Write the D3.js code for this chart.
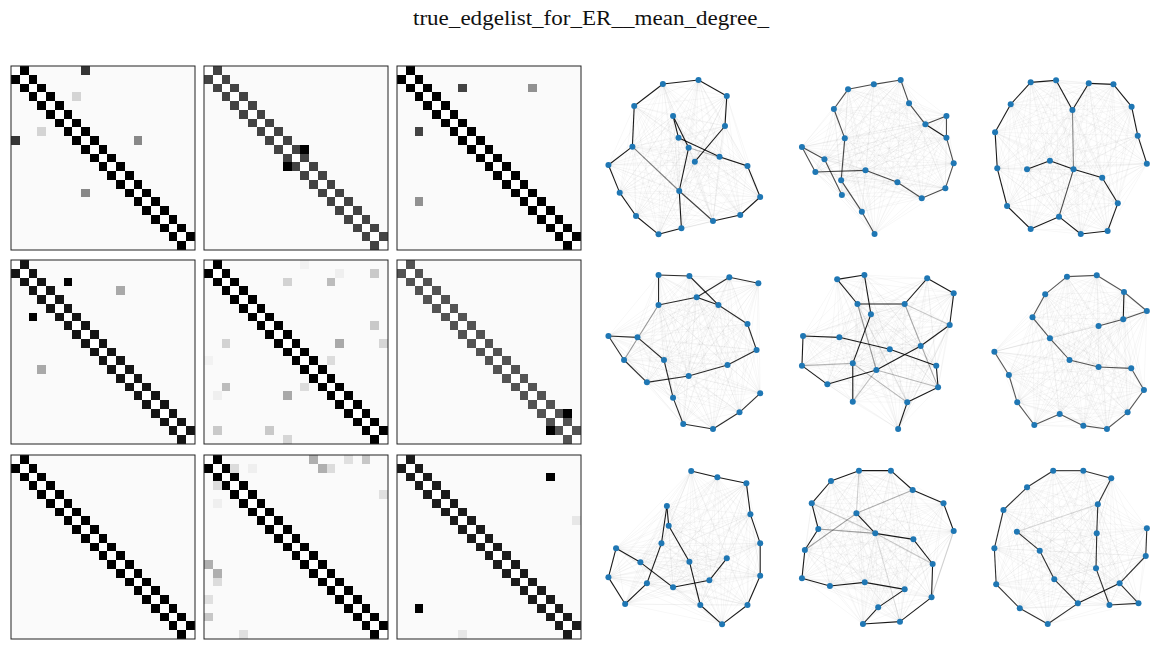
<!DOCTYPE html>
<html><head><meta charset="utf-8">
<script src="https://cdn.jsdelivr.net/npm/d3@7"></script>
<style>body{margin:0;background:#fff;} svg{display:block;}</style>
</head><body>
<svg id="chart" width="1169" height="650"></svg>
<script>
// ---------- data ----------
const title = "true_edgelist_for_ER__mean_degree_";
const nNodes = 21;
const noiseLevel = 0.04;               // faint background weight of every other pair
// weight of the i -> i+1 chain in each of the 9 estimates
const pathWeights = [1.0, 0.79, 1.0, 0.93, 1.0, 0.74, 1.0, 1.0, 0.91];
// additional (symmetric) weighted edges [i, j, w] per estimate
const extraEdges = [
  [[0,8,0.83],[3,7,0.27],[8,14,0.55]],
  [[9,11,1.0]],
  [[2,7,0.79],[2,15,0.52]],
  [[2,6,1.0],[3,12,0.44]],
  [[1,19,0.32],[2,9,0.28],[2,14,0.37],[7,19,0.32],[9,15,0.44],[9,20,0.26],[11,14,0.23],[1,15,0.12],[0,11,0.1]],
  [[17,19,1.0]],
  [],
  [[0,12,0.42],[1,13,0.42],[1,14,0.23],[0,16,0.21],[0,18,0.33],[1,3,0.23],[4,20,0.21],[1,5,0.12]],
  [[2,17,1.0],[7,20,0.17]]
];
// node layout coordinates (layout units) for each of the 9 drawn graphs, node 0..20
const nodeX = [
  [325,400,455,420,343,230,215,258,232,238,175,113,68,37,103,108,187,285,363,358,275],
  [770,735,678,688,658,697,768,842,865,910,968,968,988,965,900,833,745,607,570,632,680],
  [1190,1253,1318,1397,1440,1412,1338,1278,1200,1135,1108,1102,1145,1200,1270,1315,1360,1428,1478,1495,1520],
  [450,370,280,175,175,260,340,420,445,365,258,143,80,37,117,190,215,243,325,398,455],
  [835,860,945,940,812,673,573,570,640,775,897,977,988,915,853,723,667,742,760,710,710],
  [1100,1140,1163,1210,1280,1345,1410,1467,1512,1477,1387,1307,1253,1205,1240,1300,1382,1457,1520,1455,1387],
  [265,337,417,428,455,455,420,350,290,260,203,198,183,143,83,37,58,125,215,315,363],
  [720,772,877,930,927,840,738,780,853,743,647,570,578,615,597,650,727,815,875,960,988],
  [1520,1517,1445,1497,1417,1380,1382,1385,1422,1345,1262,1190,1125,1100,1105,1170,1247,1330,1265,1225,1162]
];
const nodeY = [
  [468,450,396,303,275,218,153,248,378,490,508,453,383,300,245,123,57,45,93,183,290],
  [507,440,346,220,132,73,58,45,115,178,153,218,295,370,400,352,316,321,246,283,390],
  [313,287,313,338,415,498,507,455,492,423,310,202,118,52,46,135,55,58,125,212,296],
  [70,52,112,135,45,48,135,192,270,315,348,367,300,228,232,300,413,492,507,457,400],
  [507,427,382,317,268,232,228,317,373,330,258,195,100,55,132,132,58,45,163,310,425],
  [275,345,427,495,462,497,507,457,390,325,321,300,235,172,103,50,46,96,153,178,198],
  [48,67,85,178,265,362,450,508,450,320,212,153,265,385,447,367,280,322,397,376,310],
  [175,235,253,327,427,500,507,457,403,382,393,370,285,222,145,78,47,47,105,145,228],
  [220,303,385,445,450,340,235,148,70,47,47,97,165,280,388,460,507,445,373,287,230]
];

// ---------- helpers ----------
function weight(k, i, j) {
  if (i === j) return 0;
  if (Math.abs(i - j) === 1) return pathWeights[k];
  const e = extraEdges[k].find(d => (d[0] === i && d[1] === j) || (d[0] === j && d[1] === i));
  return e ? e[2] : noiseLevel;
}

const svg = d3.select("#chart");
svg.append("rect").attr("width", 1169).attr("height", 650).attr("fill", "#fff");

svg.append("text")
  .attr("x", 591).attr("y", 25)
  .attr("text-anchor", "middle")
  .attr("font-family", "'Liberation Serif', 'DejaVu Serif', serif")
  .attr("font-size", 22)
  .attr("textLength", 356).attr("lengthAdjust", "spacingAndGlyphs")
  .attr("fill", "#111")
  .text(title);

const nodesIdx = d3.range(nNodes);
const matLeft = [11, 204, 397];
const matTop = [66, 260, 455];
const matSize = 184;
const graphTop = [65, 260, 455];
const color = d3.interpolateGreys;

for (let k = 0; k < 9; k++) {
  const r = Math.floor(k / 3), c = k % 3;
  // ----- adjacency matrix -----
  const xb = d3.scaleBand().domain(nodesIdx).range([matLeft[c], matLeft[c] + matSize]);
  const yb = d3.scaleBand().domain(nodesIdx).range([matTop[r], matTop[r] + matSize]);
  const cells = [];
  nodesIdx.forEach(i => nodesIdx.forEach(j => cells.push({i, j, w: weight(k, i, j)})));
  const g = svg.append("g");
  g.selectAll("rect.cell").data(cells).join("rect")
    .attr("class", "cell")
    .attr("x", d => xb(d.j)).attr("y", d => yb(d.i))
    .attr("width", xb.bandwidth() + 0.3).attr("height", yb.bandwidth() + 0.3)
    .attr("fill", d => color(d.w))
    .attr("shape-rendering", "crispEdges");
  g.append("rect")
    .attr("x", matLeft[c]).attr("y", matTop[r])
    .attr("width", matSize).attr("height", matSize)
    .attr("fill", "none").attr("stroke", "#222").attr("stroke-width", 1);

  // ----- graph drawing -----
  const gx = d3.scaleLinear().domain([0, 1570]).range([595, 1165]);
  const gy = d3.scaleLinear().domain([0, 555]).range([graphTop[r], graphTop[r] + 185]);
  const edges = [];
  for (let i = 0; i < nNodes; i++) for (let j = i + 1; j < nNodes; j++)
    edges.push({i, j, w: weight(k, i, j)});
  edges.sort((a, b) => a.w - b.w);
  const gg = svg.append("g");
  gg.selectAll("line").data(edges).join("line")
    .attr("x1", d => gx(nodeX[k][d.i])).attr("y1", d => gy(nodeY[k][d.i]))
    .attr("x2", d => gx(nodeX[k][d.j])).attr("y2", d => gy(nodeY[k][d.j]))
    .attr("stroke", "#000")
    .attr("stroke-opacity", d => d.w <= noiseLevel ? 0.045 : Math.min(1, d.w * 0.9))
    .attr("stroke-width", d => d.w <= noiseLevel ? 0.8 : 1.1);
  gg.selectAll("circle").data(nodesIdx).join("circle")
    .attr("cx", i => gx(nodeX[k][i])).attr("cy", i => gy(nodeY[k][i]))
    .attr("r", 3)
    .attr("fill", "#1f77b4");
}
</script>
</body></html>
